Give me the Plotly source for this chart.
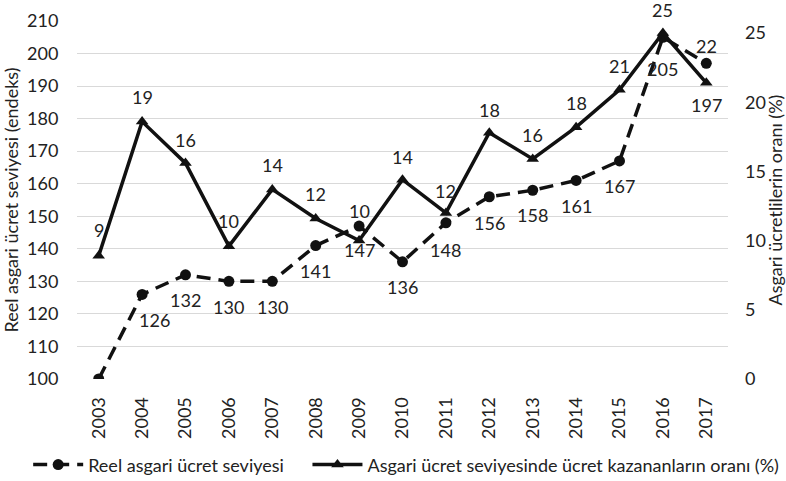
import plotly.graph_objects as go

years = ["2003", "2004", "2005", "2006", "2007", "2008", "2009", "2010",
         "2011", "2012", "2013", "2014", "2015", "2016", "2017"]
reel = [100, 126, 132, 130, 130, 141, 147, 136, 148, 156, 158, 161, 167, 205, 197]
oran = [8.9, 18.6, 15.6, 9.6, 13.7, 11.6, 10.0, 14.4, 12.0, 17.8, 15.9, 18.2, 20.9, 25.0, 21.4]
oran_labels = ["9", "19", "16", "10", "14", "12", "10", "14", "12", "18", "16", "18", "21", "25", "22"]
reel_labels = ["", "126", "132", "130", "130", "141", "147", "136", "148", "156", "158", "161", "167", "205", "197"]

# label offsets (pixels): styling only
reel_yshift = [-25, -26, -25, -26, -26, -25, -24, -25, -27, -26, -25, -26, -25, -32, -42]
reel_xshift = [0, 12, 0, 0, 0, 0, 0, 0, 0, 0, 0, 0, 0, 0, 0]
oran_yshift = [26, 25, 23, 25, 24, 24, 30, 23, 22, 23, 24, 24, 24, 23, 37]

FONT = "Lato, Carlito, Calibri, sans-serif"
COL = "#111111"
TXT = "#222222"
FS = 18
CLEAR = "rgba(0,0,0,0)"

fig = go.Figure()
fig.add_trace(go.Scatter(
    x=years, y=reel, name="Reel asgari ücret seviyesi", mode="lines+markers",
    line=dict(color=COL, width=3.5, dash="14px,8px"),
    marker=dict(symbol="circle", size=11, color=COL),
    yaxis="y", legend="legend"))
fig.add_trace(go.Scatter(
    x=years, y=oran, name="Asgari ücret seviyesinde ücret kazananların oranı (%)",
    mode="lines+markers",
    line=dict(color=COL, width=3.5),
    marker=dict(symbol="triangle-up", size=11, color=COL),
    yaxis="y2", legend="legend2"))

ann = []
for i, yr in enumerate(years):
    if reel_labels[i]:
        ann.append(dict(x=i, y=reel[i], xref="x", yref="y", text=reel_labels[i],
                        showarrow=False, yshift=reel_yshift[i], xshift=reel_xshift[i],
                        font=dict(family=FONT, size=FS, color=TXT)))
    ann.append(dict(x=i, y=oran[i], xref="x", yref="y2", text=oran_labels[i],
                    showarrow=False, yshift=oran_yshift[i],
                    font=dict(family=FONT, size=FS, color=TXT)))

legend_common = dict(orientation="h", yanchor="middle", y=-0.24,
                     font=dict(family=FONT, size=FS, color=TXT),
                     itemwidth=50, bgcolor=CLEAR)

fig.update_layout(
    width=786, height=481,
    margin=dict(l=77, r=58, t=21, b=102, autoexpand=False),
    paper_bgcolor="white", plot_bgcolor="white",
    font=dict(family=FONT, size=FS, color=TXT),
    showlegend=True,
    legend=dict(x=-0.075, xanchor="left", **legend_common),
    legend2=dict(x=0.354, xanchor="left", **legend_common),
    xaxis=dict(type="category", range=[-0.5, 14.5], tickangle=-90,
               showgrid=False, showline=False, ticks="outside", ticklen=10,
               tickcolor=CLEAR,
               tickfont=dict(family=FONT, size=FS, color=TXT)),
    yaxis=dict(range=[100, 210], dtick=10, showgrid=True, gridcolor="#d9d9d9",
               gridwidth=1.3, zeroline=False, showline=False,
               ticks="outside", ticklen=14, tickcolor=CLEAR,
               title=dict(text="Reel asgari ücret seviyesi (endeks)", standoff=6,
                          font=dict(family=FONT, size=FS, color=TXT)),
               tickfont=dict(family=FONT, size=FS, color=TXT)),
    yaxis2=dict(range=[0, 25.87], dtick=5, overlaying="y", side="right",
                showgrid=False, zeroline=False, showline=False, ticks="",
                ticklabelstandoff=16,
                title=dict(text="Asgari ücretlilerin oranı (%)", standoff=4,
                           font=dict(family=FONT, size=FS, color=TXT)),
                tickfont=dict(family=FONT, size=FS, color=TXT)),
    annotations=ann,
)

fig.write_html("out.html", config={"displayModeBar": False},
               post_script="document.body.style.margin='0';document.body.style.overflow='hidden';")
